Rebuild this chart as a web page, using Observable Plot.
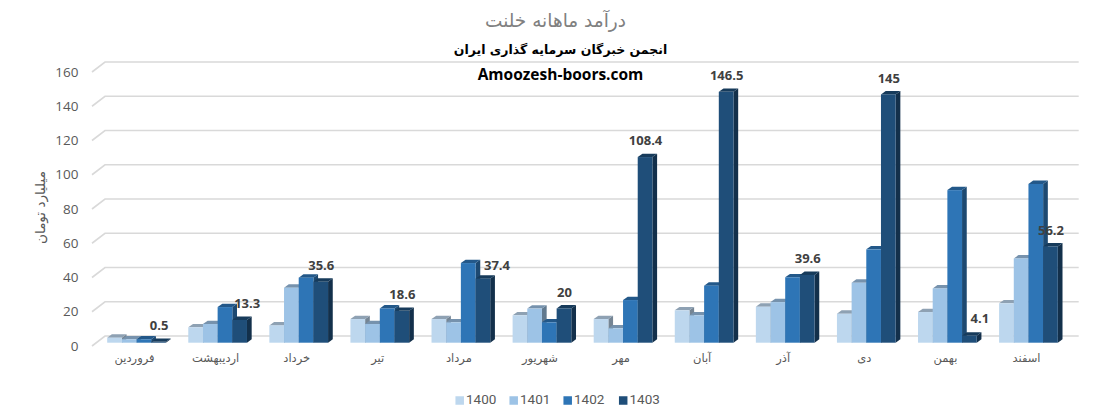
<!DOCTYPE html>
<html lang="fa">
<head>
<meta charset="utf-8">
<script src="https://cdn.jsdelivr.net/npm/d3@7"></script>
<script src="https://cdn.jsdelivr.net/npm/@observablehq/plot@0.6"></script>
<style>
html,body{margin:0;padding:0;background:#fff}
svg{display:block}
</style>
</head>
<body>
<div id="chart"></div>
<script>
const months = ["فروردین","اردیبهشت","خرداد","تیر","مرداد","شهریور","مهر","آبان","آذر","دی","بهمن","اسفند"];
const years = ["1400","1401","1402","1403"];
const colors = ["#BDD7EE","#9DC3E6","#2E75B6","#1F4E79"];
const values1400 = [2.9,9,10.1,13.8,13.8,16,13.8,18.9,21,16.9,17.9,23];
const values1401 = [2,10.9,32.1,10.9,11.9,19.9,8.4,16,23.7,35,31.7,49.2];
const values1402 = [2,20.8,38,20,46.5,11.9,24.9,33.3,38.2,54.5,89.1,92.7];
const values1403 = [0.5,13.3,35.6,18.6,37.4,20,108.4,146.5,39.6,145,4.1,56.2];
const yTicks = [0,20,40,60,80,100,120,140,160];
const titleText = "درآمد ماهانه خلنت";
const subtitleText = "انجمن خبرگان سرمایه گذاری ایران";
const siteText = "Amoozesh-boors.com";
const yTitle = "میلیارد تومان";

const series = [values1400,values1401,values1402,values1403];
const table = [];
const pad = 0.138, barW = 0.181;
months.forEach((month,i)=>series.forEach((vals,k)=>{
  table.push({month,i,k,year:years[k],value:vals[i],x1:i+pad+k*barW,x2:i+pad+(k+1)*barW});
}));
const labels = table.filter(d=>d.k===3);
const shifted = {"اردیبهشت":[7,-16.5],"مرداد":[13.6,-13],"بهمن":[10,-17]};

const DX = 4.7, DY = 3.4;
function shade(c,f){const r=d3.rgb(c);return d3.rgb(r.r*f,r.g*f,r.b*f).formatHex();}
function render3d(index,scales,v){
  const g = d3.create("svg:g");
  for(const i of index){
    const x1=v.x1[i],x2=v.x2[i],y0=v.y1[i],yt=v.y2[i],c=v.fill[i];
    g.append("path").attr("fill",shade(c,0.62))
      .attr("d",`M${x2},${y0}L${x2+DX},${y0-DY}L${x2+DX},${yt-DY}L${x2},${yt}Z`);
    g.append("path").attr("fill",shade(c,0.75))
      .attr("d",`M${x1},${yt}L${x1+DX},${yt-DY}L${x2+DX},${yt-DY}L${x2},${yt}Z`);
    g.append("rect").attr("x",x1).attr("y",yt).attr("width",x2-x1).attr("height",y0-yt).attr("fill",c);
  }
  return g.node();
}
function renderGrid(index,scales,v,dim){
  const g = d3.create("svg:g").attr("fill","none").attr("stroke","#D9D9D9").attr("stroke-width",1.6);
  const left = dim.marginLeft;
  for(const i of index){
    const y=v.y[i];
    g.append("path").attr("d",`M${left-4},${y+3.3}L${left+9},${y-6.7}L${dim.width-29.3},${y-6.7}`);
  }
  return g.node();
}
const persian = '"DejaVu Sans"';
const labelStyle = {text:d=>String(d.value),x:d=>d.x1+barW/2,y:"value",fontFamily:'"Open Sans"',fontWeight:700,fontSize:13,fill:"#404040",lineAnchor:"middle"};
const frameW = 1108-96-39;

const chart = Plot.plot({
  width:1108,height:407,
  marginLeft:96,marginRight:39,marginTop:68.7,marginBottom:64.3,
  style:{fontFamily:'"Open Sans"',background:"#fff"},
  x:{domain:[0,12],axis:null},
  y:{domain:[0,160],axis:null},
  color:{type:"ordinal",domain:years,range:colors},
  marks:[
    Plot.ruleY(yTicks,{y:d=>d,render:renderGrid}),
    Plot.axisY({ticks:yTicks,tickSize:0,tickPadding:18,dy:3,label:null,fontSize:13.5,color:"#595959",textStroke:"none"}),
    Plot.axisX({ticks:months.map((_,i)=>i+0.5),tickFormat:d=>months[Math.round(d-0.5)],tickSize:0,tickPadding:11,dx:-2.5,label:null,fontSize:11.5,fontFamily:persian,color:"#595959"}),
    Plot.rect(table,{x1:"x1",x2:"x2",y1:()=>0,y2:"value",fill:"year",render:render3d}),
    Plot.text(labels.filter(d=>!shifted[d.month]),{...labelStyle,dy:-16.5}),
    ...Object.entries(shifted).map(([m,[dx,dy]])=>Plot.text(labels.filter(d=>d.month===m),{...labelStyle,dx,dy})),
    Plot.text([titleText],{frameAnchor:"top",dx:555-96-frameW/2,dy:21-68.7,lineAnchor:"middle",fontFamily:persian,fontSize:18.5,fill:"#808080"}),
    Plot.text([subtitleText],{frameAnchor:"top",dx:560-96-frameW/2,dy:50-68.7,lineAnchor:"middle",fontFamily:persian,fontSize:12.5,fontWeight:700,fill:"#000"}),
    Plot.text([siteText],{frameAnchor:"top",dx:560-96-frameW/2,dy:75-68.7,lineAnchor:"middle",fontFamily:'"Open Sans"',fontSize:15.5,fontWeight:700,fill:"#000"}),
    Plot.text([yTitle],{frameAnchor:"left",dx:40-96,dy:207-(68.7+137),rotate:-90,textAnchor:"middle",lineAnchor:"middle",fontFamily:persian,fontSize:13.5,fill:"#595959"}),
    ...years.flatMap((yr,k)=>{
      const sx=[455,509,563,618.5][k];
      return [
        Plot.dot([yr],{frameAnchor:"bottom-left",dx:sx+4.2-96,dy:400-342.7,symbol:"square",r:4.8,fill:d=>d}),
        Plot.text([yr],{frameAnchor:"bottom-left",dx:sx+10.5-96,dy:399-342.7,textAnchor:"start",lineAnchor:"middle",fontFamily:"Roboto",fontSize:13.5,fill:"#595959"})
      ];
    })
  ]
});
document.getElementById("chart").append(chart);
</script>
</body>
</html>
